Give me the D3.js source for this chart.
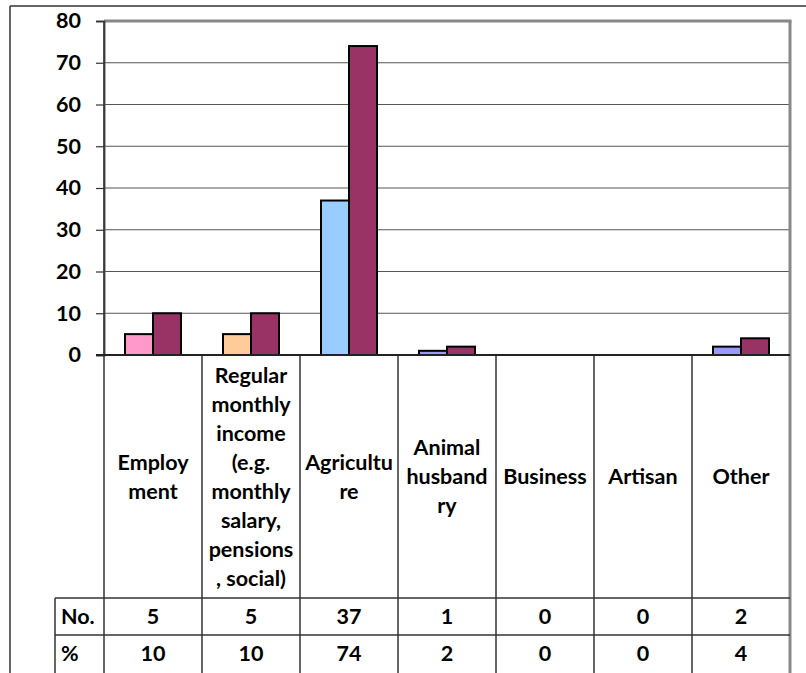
<!DOCTYPE html>
<html>
<head>
<meta charset="utf-8">
<script src="https://cdn.jsdelivr.net/npm/d3@7"></script>
<style>
  body { margin: 0; background: #fff; }
  text { font-family: Lato, "Open Sans", sans-serif; font-weight: bold; fill: #000; }
</style>
</head>
<body>
<div id="chart"></div>
<script>
// data
let categories = ["Employment", "Regular monthly income", "Agriculture", "Animal husbandry", "Business", "Artisan", "Other"];
let labelLines = [
    ["Employ", "ment"],
    ["Regular", "monthly", "income", "(e.g.", "monthly", "salary,", "pensions", ", social)"],
    ["Agricultu", "re"],
    ["Animal", "husband", "ry"],
    ["Business"],
    ["Artisan"],
    ["Other"]
];
let seriesNames = ["No.", "%"];
let counts = [5, 5, 37, 1, 0, 0, 2];
let percents = [10, 10, 74, 2, 0, 0, 4];
let yTicks = [0, 10, 20, 30, 40, 50, 60, 70, 80];
let countColors = ["#FF99CC", "#FFCC99", "#99CCFF", "#9999FF", "#9999FF", "#9999FF", "#9999FF"];
let percentColor = "#993366";

let width = 806;
let height = 673;
let fontSize = "21.5px";

// plot area
let plot = { left: 104, right: 790, top: 21, bottom: 355 };
let labelBottom = 598;
let rowH = 37;
let tableLeft = 55;

let svg = d3.select("#chart")
            .append("svg")
            .attr("width", width)
            .attr("height", height);

svg.append("rect").attr("width", width).attr("height", height).attr("fill", "#fff");

// outer frame
svg.append("line").attr("x1", 10).attr("x2", width).attr("y1", 6).attr("y2", 6)
    .attr("stroke", "#333").attr("stroke-width", 1.5);
svg.append("line").attr("x1", 10).attr("x2", 10).attr("y1", 6).attr("y2", height)
    .attr("stroke", "#333").attr("stroke-width", 1.5);

// scales
let x0 = d3.scaleBand()
            .domain(categories)
            .range([plot.left, plot.right]);

let x1 = d3.scaleBand()
            .domain(seriesNames)
            .range([0, x0.bandwidth()])
            .paddingOuter(0.75);

let yScale = d3.scaleLinear()
                .domain([0, 80])
                .range([plot.bottom, plot.top]);

// gridlines
svg.append("g")
    .selectAll("line")
    .data(yTicks.filter(t => t > 0 && t < 80))
    .enter()
    .append("line")
    .attr("x1", plot.left)
    .attr("x2", plot.right)
    .attr("y1", d => yScale(d))
    .attr("y2", d => yScale(d))
    .attr("stroke", "#555")
    .attr("stroke-width", 1);

// top and right border of plot
svg.append("line").attr("x1", plot.left).attr("x2", plot.right + 1.5)
    .attr("y1", yScale(80)).attr("y2", yScale(80))
    .attr("stroke", "#888").attr("stroke-width", 3);
svg.append("line").attr("x1", plot.right).attr("x2", plot.right)
    .attr("y1", yScale(80)).attr("y2", height)
    .attr("stroke", "#888").attr("stroke-width", 3);

// y axis
let yAxis = d3.axisLeft(yScale).tickValues(yTicks).tickSize(8).tickPadding(15);
let yG = svg.append("g")
    .attr("transform", `translate(${plot.left}, 0)`)
    .call(yAxis);
yG.select(".domain").attr("stroke", "#555").attr("stroke-width", 2);
yG.selectAll(".tick line").attr("stroke", "#333").attr("stroke-width", 1.2);
yG.selectAll(".tick text").style("font-size", fontSize).style("font-family", "Lato, sans-serif").style("font-weight", "bold");

// vertical category lines under axis
let boundaries = categories.map(c => x0(c));
svg.append("g")
    .selectAll("line")
    .data(boundaries)
    .enter()
    .append("line")
    .attr("x1", d => d)
    .attr("x2", d => d)
    .attr("y1", (d, i) => i === 0 ? plot.top : plot.bottom)
    .attr("y2", height)
    .attr("stroke", "#333")
    .attr("stroke-width", 1.5);

// table lines
[labelBottom, labelBottom + rowH].forEach(y => {
    svg.append("line").attr("x1", tableLeft).attr("x2", plot.right)
        .attr("y1", y).attr("y2", y)
        .attr("stroke", "#333").attr("stroke-width", 1.5);
});
svg.append("line").attr("x1", tableLeft).attr("x2", tableLeft)
    .attr("y1", labelBottom).attr("y2", height)
    .attr("stroke", "#333").attr("stroke-width", 1.5);

// bars
let groups = svg.append("g")
    .selectAll("g")
    .data(categories)
    .enter()
    .append("g")
    .attr("transform", d => `translate(${x0(d)}, 0)`);

groups.append("rect")
    .attr("x", x1("No."))
    .attr("y", (d, i) => yScale(counts[i]))
    .attr("width", x1.bandwidth())
    .attr("height", (d, i) => yScale(0) - yScale(counts[i]))
    .attr("fill", (d, i) => countColors[i])
    .attr("stroke", "#000")
    .attr("stroke-width", (d, i) => counts[i] > 0 ? 2 : 0);

groups.append("rect")
    .attr("x", x1("%"))
    .attr("y", (d, i) => yScale(percents[i]))
    .attr("width", x1.bandwidth())
    .attr("height", (d, i) => yScale(0) - yScale(percents[i]))
    .attr("fill", percentColor)
    .attr("stroke", "#000")
    .attr("stroke-width", (d, i) => percents[i] > 0 ? 2 : 0);

// x axis line
svg.append("line").attr("x1", plot.left - 8).attr("x2", plot.right)
    .attr("y1", yScale(0)).attr("y2", yScale(0))
    .attr("stroke", "#222").attr("stroke-width", 2);

// category labels
let lineH = 29;
let midY = (plot.bottom + labelBottom) / 2;
groups.each(function(d, i) {
    let lines = labelLines[i];
    let startY = midY - (lines.length - 1) * lineH / 2;
    d3.select(this).append("text")
        .attr("text-anchor", "middle")
        .style("font-size", fontSize)
        .selectAll("tspan")
        .data(lines)
        .enter()
        .append("tspan")
        .attr("x", x0.bandwidth() / 2)
        .attr("y", (l, j) => startY + j * lineH)
        .attr("dy", "0.35em")
        .text(l => l);
});

// data table
let rows = [counts, percents];
rows.forEach((vals, r) => {
    let cy = labelBottom + rowH * r + rowH / 2;
    svg.append("text")
        .attr("x", 61)
        .attr("y", cy)
        .attr("dy", "0.35em")
        .style("font-size", fontSize)
        .text(seriesNames[r]);
    svg.append("g")
        .selectAll("text")
        .data(vals)
        .enter()
        .append("text")
        .attr("x", (d, i) => x0(categories[i]) + x0.bandwidth() / 2)
        .attr("y", cy)
        .attr("dy", "0.35em")
        .attr("text-anchor", "middle")
        .style("font-size", fontSize)
        .text(d => d);
});
</script>
</body>
</html>
